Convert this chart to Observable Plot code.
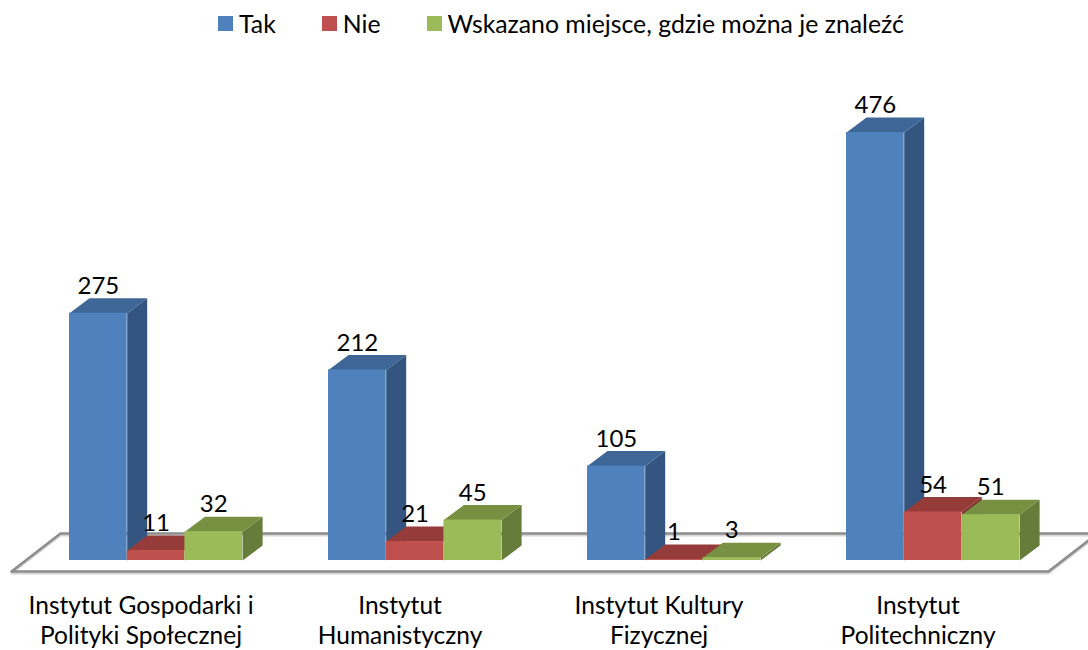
<!DOCTYPE html>
<html><head><meta charset="utf-8">
<script src="https://cdn.jsdelivr.net/npm/d3@7"></script>
<script src="https://cdn.jsdelivr.net/npm/@observablehq/plot@0.6"></script>
<style>
html,body{margin:0;padding:0;background:#fff;overflow:hidden}
body{font-family:Lato,"Open Sans",sans-serif;color:#000}
#legend{height:50px;display:flex;justify-content:flex-start;align-items:flex-start;padding-left:218px;box-sizing:border-box;padding-top:11px;font-size:24.8px;line-height:25px}
#legend .it{display:flex;align-items:center;margin-right:46px;white-space:nowrap}
#legend i{display:block;width:15px;height:15px;margin-right:6px}
svg{display:block}
</style></head><body>
<div id="legend"></div>
<div id="chart"></div>
<script>
const categories = ["Instytut Gospodarki i\nPolityki Społecznej","Instytut\nHumanistyczny","Instytut Kultury\nFizycznej","Instytut\nPolitechniczny"];
const seriesNames = ["Tak","Nie","Wskazano miejsce, gdzie można je znaleźć"];
const tak = [275,212,105,476];
const nie = [11,21,1,54];
const wskazano = [32,45,3,51];
const frontColors = ["#4f81bd","#c0504d","#9bbb59"];
const topColors = ["#3e6797","#953b39","#789042"];
const sideColors = ["#33557f","#7f3331","#667c3a"];

// layout, in plot units
const W = 1088, H = 600, BAR = 57.7, PITCH = 259 / BAR, X0 = 69, BASE = 510, TOP = 82, VMAX = 476;
const pxY = (VMAX / (BASE - TOP));
const DX = 20 / BAR, DY = 15 * pxY;
const labelShift = -15;
const u = px => (px - X0) / BAR;

const values = [tak, nie, wskazano];
const bars = categories.flatMap((c, g) => seriesNames.map((s, k) => ({
  g, k, value: values[k][g], x1: g * PITCH + k, x2: g * PITCH + k + 1
})));
const faces = bars.flatMap((b, i) => [
  ["s", sideColors[b.k], [[b.x2,0],[b.x2+DX,DY],[b.x2+DX,b.value+DY],[b.x2,b.value]]],
  ["t", topColors[b.k], [[b.x1,b.value],[b.x2,b.value],[b.x2+DX,b.value+DY],[b.x1+DX,b.value+DY]]]
].flatMap(([t, color, pts]) => pts.map(([x, y]) => ({id: t + i, color, x, y}))));

const fy = px => -px * pxY;
const floor = [[u(11),fy(11)],[u(1048),fy(11)],[u(1097),fy(-27)],[u(60),fy(-27)],[u(11),fy(11)]].map(([x,y]) => ({x,y}));

const font = 'Lato,"Open Sans",sans-serif';
const chart = Plot.plot({
  width: W, height: H, margin: 0,
  style: {background: "#fff", overflow: "hidden"},
  x: {domain: [u(0), u(W)], range: [0, W], axis: null},
  y: {domain: [0, VMAX], range: [BASE, TOP], axis: null},
  marks: [
    Plot.line(floor, {x: "x", y: "y", stroke: "#d4d4d4", strokeWidth: 2, dy: 2}),
    Plot.line(floor, {x: "x", y: "y", stroke: "#8c8c8c", strokeWidth: 2.5}),
    Plot.line(faces, {x: "x", y: "y", z: "id", fill: "color", stroke: null}),
    Plot.rect(bars, {x1: "x1", x2: "x2", y1: 0, y2: "value", fill: d => frontColors[d.k]}),
    Plot.text(bars, {x: d => d.x1 + 0.5, y: d => d.value + DY, text: d => String(d.value), dy: -12,
      fontFamily: font, fontSize: 24, fill: "#000", stroke: null}),
    Plot.text(categories, {x: (d, i) => i * PITCH + 1.5 + labelShift / BAR, y: 0, text: d => d, dy: 58.5,
      fontFamily: font, fontSize: 24.5, lineHeight: 1.25, fill: "#000", stroke: null})
  ]
});
document.getElementById("chart").append(chart);
const leg = d3.select("#legend");
seriesNames.forEach((n, i) => {
  const it = leg.append("div").attr("class", "it");
  it.append("i").style("background", frontColors[i]);
  it.append("span").text(n);
});
</script>
</body></html>
